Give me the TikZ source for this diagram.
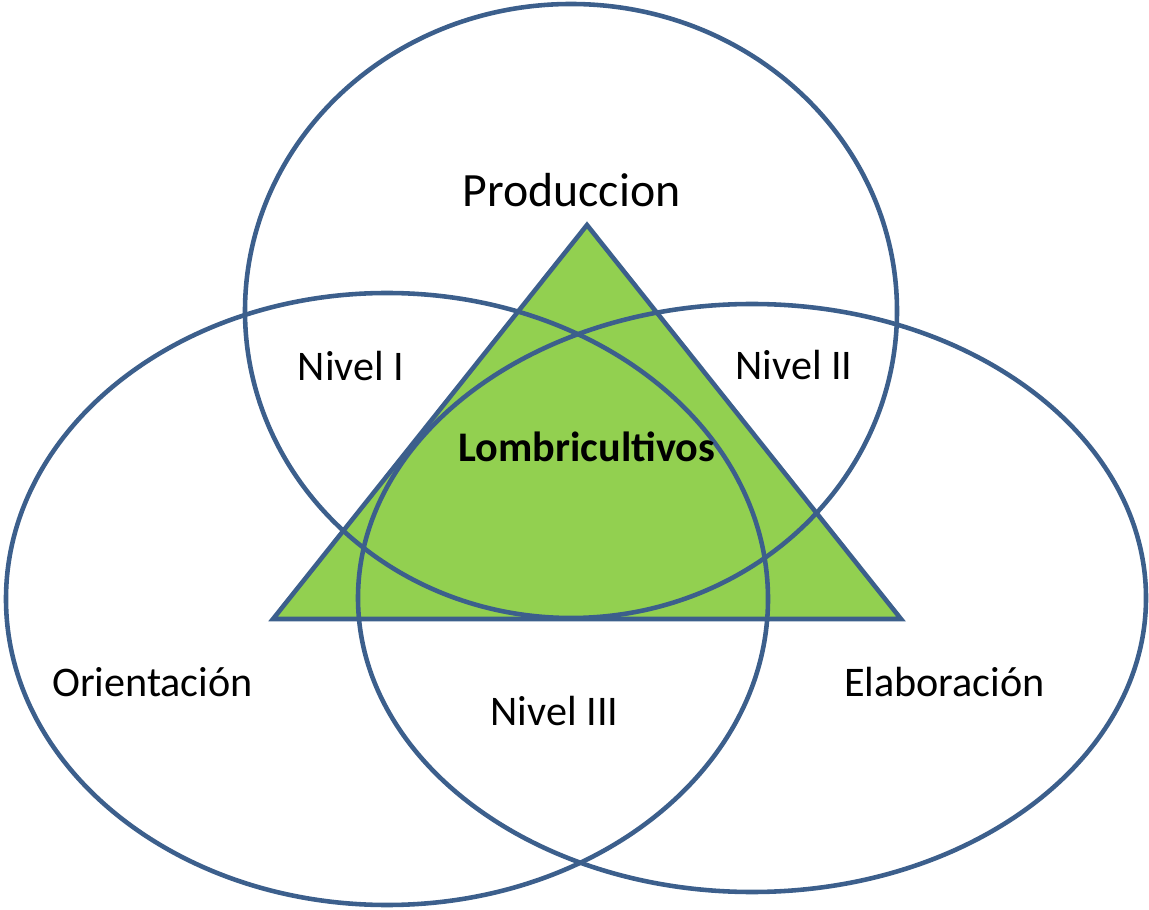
\documentclass[tikz,border=0pt]{standalone}
\usepackage{fontspec}
\setmainfont{Carlito}
\usepackage{tikz}
\usepackage{xcolor}
\definecolor{ringblue}{RGB}{60,95,140}
\definecolor{wormgreen}{RGB}{146,208,80}

\begin{document}
\begin{tikzpicture}[
    ring/.style={draw=ringblue,line width=2.6pt},
    lbl/.style={anchor=base,inner sep=0pt,font=\fontsize{24}{28}\selectfont}
  ]
    \useasboundingbox (0,0) rectangle (22.98,18.18);

    % Triangle
    \filldraw[ring,fill=wormgreen] (11.74,13.68) -- (18.02,5.8) -- (5.46,5.8) -- cycle;

    % Circles
    \draw[ring] (11.42,11.96) ellipse [x radius=6.52,y radius=6.14];
    \draw[ring] (7.74,6.2) ellipse [x radius=7.62,y radius=6.12];
    \draw[ring] (15.04,6.22) ellipse [x radius=7.88,y radius=5.88];

    % Labels
    \node[lbl,font=\fontsize{27.2}{31}\selectfont] (prod) at (11.43,14.04) {Produccion};
    \node[lbl] (orient) at (3.05,4.26) {Orientación};
    \node[lbl] (elab) at (18.89,4.26) {Elaboración};
    \node[lbl] (nivelI) at (7.02,10.56) {Nivel I};
    \node[lbl] (nivelII) at (15.88,10.58) {Nivel II};
    \node[lbl] (nivelIII) at (11.09,3.68) {Nivel III};
    \node[lbl,font=\fontsize{24}{28}\selectfont\bfseries] (lombri) at (11.74,8.94) {Lombricultivos};
\end{tikzpicture}
\end{document}
